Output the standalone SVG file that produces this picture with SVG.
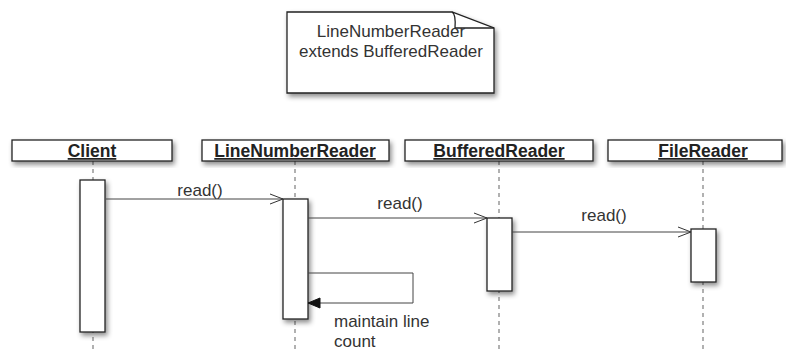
<svg xmlns="http://www.w3.org/2000/svg" width="786" height="351" viewBox="0 0 786 351">
<style>
text{font-family:"Liberation Sans",Arial,sans-serif;fill:#222;}
.hdr{font-size:17.5px;font-weight:bold;text-decoration:underline;text-anchor:middle;}
.lbl{font-size:17px;fill:#333;}
.box{fill:#fff;stroke:#222;stroke-width:1.3;}
.life{stroke:#888;stroke-width:1.3;stroke-dasharray:4,4;fill:none;}
.msg{stroke:#444;stroke-width:1;fill:none;}
</style>
<defs>
<filter id="sh" x="-30%" y="-30%" width="160%" height="160%">
<feDropShadow dx="2" dy="3" stdDeviation="2.5" flood-color="#000" flood-opacity="0.45"/>
</filter>
<marker id="open" markerWidth="16" markerHeight="12" refX="14" refY="6" orient="auto" markerUnits="userSpaceOnUse">
<path d="M1,1 L14,6 L1,11" fill="none" stroke="#333" stroke-width="1"/>
</marker>
<marker id="fill" markerWidth="14" markerHeight="12" refX="13" refY="6" orient="auto" markerUnits="userSpaceOnUse">
<path d="M1,1 L13,6 L1,11 Z" fill="#111" stroke="#111"/>
</marker>
</defs>

<g id="note">
<path d="M287,12 L452,12 L494,28 L494,93 L287,93 Z" class="box" filter="url(#sh)"/>
<path d="M452,12 Q456,14 455,28 L494,28" fill="none" stroke="#222" stroke-width="1.3"/>
<text x="391" y="37" class="lbl" text-anchor="middle">LineNumberReader</text>
<text x="391" y="57" class="lbl" text-anchor="middle">extends BufferedReader</text>
</g>

<g id="lifelines">
<line x1="93" y1="161" x2="93" y2="351" class="life"/>
<line x1="295" y1="161" x2="295" y2="351" class="life"/>
<line x1="499" y1="161" x2="499" y2="351" class="life"/>
<line x1="703" y1="161" x2="703" y2="351" class="life"/>
</g>

<g id="client">
<rect x="12" y="140" width="160" height="21" class="box" filter="url(#sh)"/>
<text x="92" y="157" class="hdr">Client</text>
<rect x="80" y="180" width="25" height="152" class="box" filter="url(#sh)"/>
</g>
<g id="linenumberreader">
<rect x="202" y="140" width="187" height="21" class="box" filter="url(#sh)"/>
<text x="295" y="157" class="hdr">LineNumberReader</text>
<rect x="283" y="199" width="25" height="120" class="box" filter="url(#sh)"/>
</g>
<g id="bufferedreader">
<rect x="405" y="140" width="188" height="21" class="box" filter="url(#sh)"/>
<text x="499" y="157" class="hdr">BufferedReader</text>
<rect x="487" y="218" width="25" height="73" class="box" filter="url(#sh)"/>
</g>
<g id="filereader">
<rect x="608" y="140" width="174" height="21" class="box" filter="url(#sh)"/>
<text x="703" y="157" class="hdr">FileReader</text>
<rect x="691" y="229" width="25" height="53" class="box" filter="url(#sh)"/>
</g>

<g id="connectors">
<line x1="106" y1="199" x2="283" y2="199" class="msg" marker-end="url(#open)"/>
<text x="200" y="196" class="lbl" text-anchor="middle">read()</text>
<line x1="308" y1="218" x2="487" y2="218" class="msg" marker-end="url(#open)"/>
<text x="400" y="209" class="lbl" text-anchor="middle">read()</text>
<line x1="512" y1="232" x2="691" y2="232" class="msg" marker-end="url(#open)"/>
<text x="604" y="221" class="lbl" text-anchor="middle">read()</text>
<path d="M308,273 L413,273 L413,303 L308,303" class="msg" stroke="#111" stroke-width="1.3" marker-end="url(#fill)"/>
<text x="334" y="327" class="lbl">maintain line</text>
<text x="334" y="347" class="lbl">count</text>
</g>
</svg>
